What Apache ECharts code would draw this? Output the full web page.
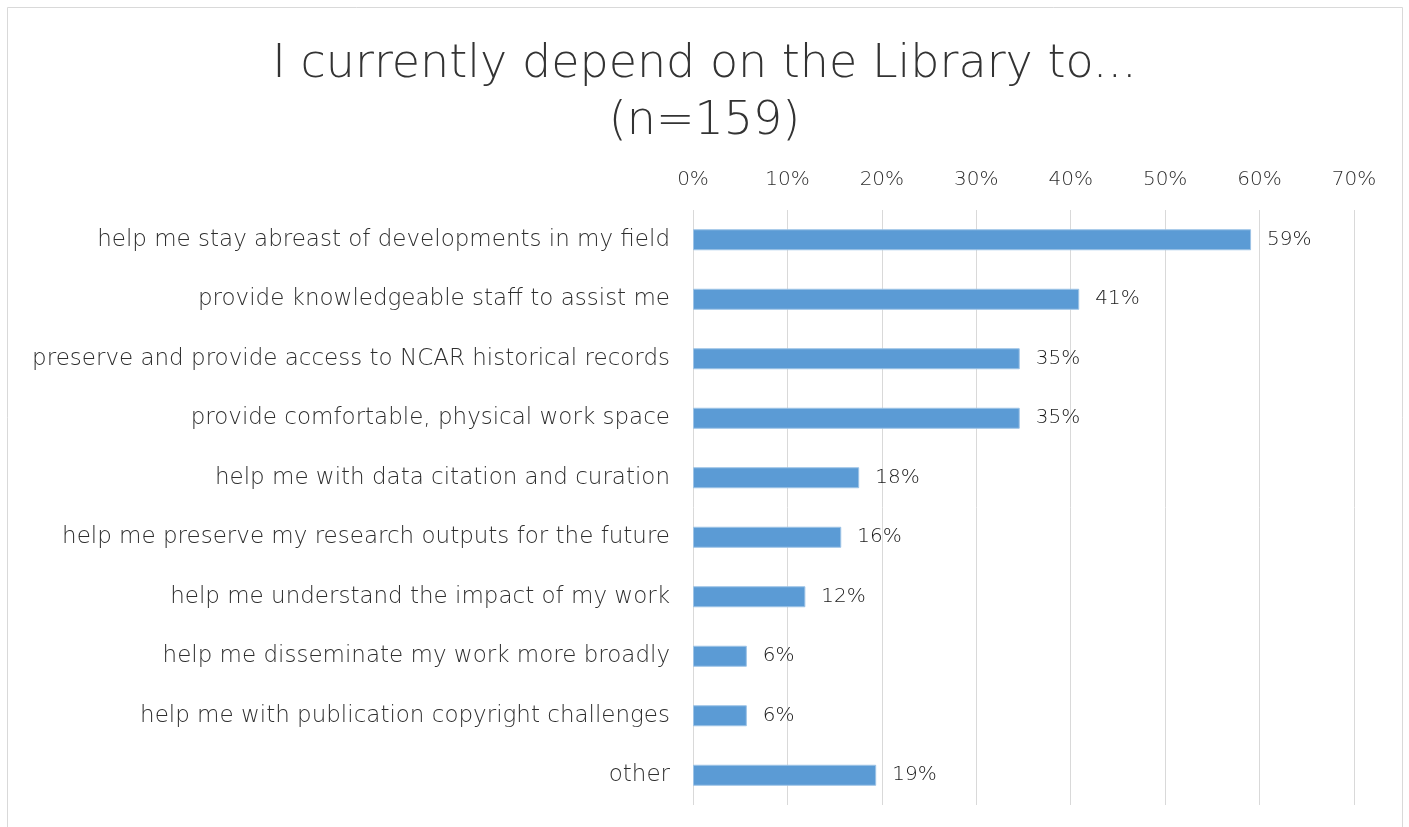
<!DOCTYPE html>
<html>
<head>
<meta charset="utf-8">
<script src="https://cdn.jsdelivr.net/npm/echarts@6/dist/echarts.min.js"></script>
<style>
html,body{margin:0;padding:0;background:#fff;}
#chart{width:1409px;height:827px;}
</style>
</head>
<body>
<div id="chart"></div>
<script>
const categories = [
  "help me stay abreast of developments in my field",
  "provide knowledgeable staff to assist me",
  "preserve and provide access to NCAR historical records",
  "provide comfortable, physical work space",
  "help me with data citation and curation",
  "help me preserve my research outputs for the future",
  "help me understand the impact of my work",
  "help me disseminate my work more broadly",
  "help me with publication copyright challenges",
  "other"
];
const values = [59.1, 40.9, 34.6, 34.6, 17.6, 15.7, 11.9, 5.7, 5.7, 19.4];
const titleText = "I currently depend on the Library to...\n(n=159)";

const FONT = "'DejaVu Sans ExtraLight', 'DejaVu Sans'";
const W = 200;
const chart = echarts.init(document.getElementById('chart'));
chart.setOption({
  animation: false,
  textStyle: { fontFamily: FONT, fontWeight: W },
  graphic: [{
    type: 'rect', silent: true, z: -1,
    shape: { x: 7.5, y: 7.5, width: 1395, height: 840 },
    style: { fill: '#fff', stroke: '#d9d9d9', lineWidth: 1 }
  }],
  title: {
    text: titleText,
    left: 'center',
    top: 32,
    textStyle: { fontFamily: FONT, fontSize: 46, fontWeight: W, color: '#333333', lineHeight: 57 }
  },
  grid: { left: 693, right: 55, top: 210, bottom: 22, containLabel: false },
  xAxis: {
    type: 'value', position: 'top', min: 0, max: 70, interval: 10,
    axisLine: { show: false }, axisTick: { show: false },
    axisLabel: { formatter: '{value}%', fontSize: 20, color: '#2e2e2e', margin: 20, fontFamily: FONT, fontWeight: W },
    splitLine: { lineStyle: { color: '#d9d9d9', width: 1 } }
  },
  yAxis: {
    type: 'category', data: categories, inverse: true,
    axisLine: { show: false }, axisTick: { show: false },
    axisLabel: { fontSize: 23, color: '#2e2e2e', margin: 23, fontFamily: FONT, fontWeight: W }
  },
  series: [{
    type: 'bar', data: values, barWidth: 21,
    itemStyle: { color: '#5b9bd5', borderColor: '#9dc3e6', borderWidth: 1 },
    label: {
      show: true, position: 'right', distance: 16, fontSize: 20, color: '#1a1a1a', fontFamily: FONT, fontWeight: W,
      formatter: p => Math.round(p.value) + '%'
    }
  }]
});
</script>
</body>
</html>
